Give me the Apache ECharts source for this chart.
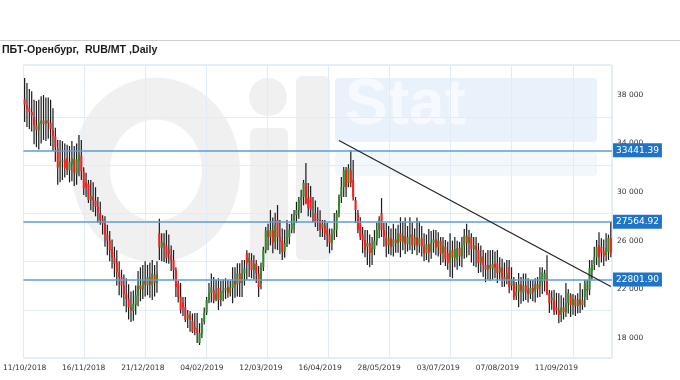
<!DOCTYPE html>
<html><head><meta charset="utf-8">
<script src="https://cdn.jsdelivr.net/npm/echarts@6/dist/echarts.min.js"></script>
<style>html,body{margin:0;padding:0;background:#fff}#c{width:680px;height:380px}</style>
</head><body><div id="c"></div>
<script>
// ---- calendar (trading days) ----
const startDate = '2018-10-11';
const candleCount = 249;
const holidays = ['2018-11-05','2018-12-31','2019-01-01','2019-01-02','2019-01-03','2019-01-04','2019-01-07','2019-01-08',
  '2019-03-08','2019-05-01','2019-05-02','2019-05-03','2019-05-09','2019-05-10','2019-06-12','2019-11-04'];
const extraWorkdays = ['2018-12-29'];
const tickLabels = ['11/10/2018','16/11/2018','21/12/2018','04/02/2019','12/03/2019','16/04/2019','28/05/2019','03/07/2019','07/08/2019','11/09/2019'];

// ---- OHLC values (RUB/MT) ----
const opens = [
37650,37170,36900,36600,36200,35500,35100,35600,35900,35600,
35900,35700,35100,34600,33600,32100,32500,32700,32800,31800,
32300,32700,31500,32600,33000,31700,30800,30700,29400,29600,
29300,28800,28270,27800,27400,26500,26000,25300,24600,24200,
23400,23000,22300,21600,21200,20500,20200,20700,21500,22300,
22000,22700,22300,22900,22300,23200,22500,26600,25400,25800,
25600,25300,24800,24400,23580,22500,21400,20900,20530,19600,
19900,19400,18700,18800,17560,18390,19300,20100,21100,21670,
21930,21200,22100,21100,21700,21900,22170,21700,22100,22700,
22400,23300,22500,23300,24960,24200,24400,23600,24100,23300,
22500,23800,25230,26800,26300,26870,25900,27700,26300,26000,
25100,25800,26300,26900,27280,28100,28520,29350,29600,30750,
29500,29600,28700,28270,27700,27700,27000,27300,26870,26500,
25800,26600,26870,28270,29600,30420,31800,30750,31800,30990,
29350,28270,27450,26500,26050,25500,25800,25000,25300,26000,
26870,28270,26900,26300,25600,26200,25500,26100,25800,26600,
25900,26400,25700,26300,26500,25600,26300,25600,26200,25500,
24960,25700,25100,25800,26100,25500,26000,25000,25500,24960,
24200,25200,24600,24400,25400,24700,25600,26400,25800,26300,
25300,25600,25230,24200,24700,24000,23600,24000,23700,24100,
24140,23400,23800,23000,22800,23820,22300,22500,21400,21800,
22400,21700,22300,21900,21600,22100,21800,22400,22200,22580,
22800,22900,21670,21100,21100,20500,20280,19900,20500,20100,
20850,21500,20700,21200,20600,21200,20700,21350,22000,21930,
23500,24100,24630,25630,25470,25100,24800,25060,26210];
const closes = [
37200,36840,36600,36300,35500,35100,35700,35900,35600,35900,
35700,35200,34600,33700,32000,32500,32600,32000,31800,32500,
32800,31600,32700,33100,31700,30300,30400,29350,29700,29300,
28800,28300,27700,27400,26500,26000,25200,24600,24100,23400,
23000,22300,21600,21200,20500,20300,20800,21500,22300,22000,
22700,22400,23000,22400,23300,22500,23300,25450,25900,25600,
24570,24900,24400,23580,22170,21350,20280,20530,19460,19900,
19460,18500,18900,18390,18390,19200,20100,21100,21670,22170,
21100,21600,21100,21800,21900,22100,21670,22170,22700,22400,
23300,22500,23300,23700,24140,24600,23580,24100,23300,22170,
23800,25230,26870,26300,26870,25800,27300,26300,25900,25060,
25800,26300,26900,27400,28100,28520,29350,29600,30750,29100,
28700,28520,28800,27450,27800,26870,27400,26600,26400,25800,
26600,26870,28270,29600,30420,31800,30400,31960,30750,29600,
28520,26870,26300,26000,25230,25800,24960,25400,26000,26870,
27700,26870,26300,25600,26200,25500,26100,25800,26600,25900,
26400,25700,26300,26500,25600,26300,25600,26200,25500,24960,
25700,25000,25800,26100,25400,26000,24900,25600,24500,24140,
25200,24600,25300,25400,24700,25600,26400,25800,26300,25300,
25600,25230,24140,24700,24000,23600,24000,23700,24100,23800,
23330,23800,23000,22700,23300,22170,22800,21350,21800,22400,
21900,22300,21800,21600,22100,21800,22400,22000,22900,23400,
23300,21670,20850,21300,20120,20280,19870,20500,20100,20850,
21670,20700,21200,20600,21100,20700,21100,22500,21900,23750,
24000,24630,25470,24630,25000,24700,25400,26210,24960];
const lows = [
35770,35360,35200,35000,33950,33700,33500,34000,34300,34200,
34400,33800,33400,32500,30600,30800,31000,31200,31400,30800,
30900,30500,30600,31300,31000,29750,29600,29100,28500,28350,
28000,27500,27300,26500,25500,24800,24300,23700,23000,22300,
21500,21300,20600,20100,19500,19300,19400,19900,20600,21000,
21200,21400,21500,21300,21100,21400,21700,24400,24300,24230,
24140,24100,23500,22750,21350,20900,20000,19800,19300,18800,
18500,18390,18200,17560,17400,17980,19100,19870,20850,20900,
20850,21000,20280,20600,21000,21200,21300,21400,20850,21300,
21400,21350,21350,22300,22750,23000,22900,22800,22500,21350,
22000,23500,24960,25200,25600,24960,25300,25230,24900,24400,
24600,25470,25700,26600,26600,27450,27800,28270,28900,29000,
28000,27930,27500,27120,26800,26300,26300,26050,25500,24960,
25200,26050,26300,27930,29100,29600,29600,30400,30400,29300,
27450,26600,26050,24960,24630,24000,23800,24000,24800,25600,
26200,26300,25500,24630,24900,24800,24700,25000,25000,24630,
25200,24900,25100,25200,24900,25200,24800,25000,24700,24300,
24400,24200,24500,25000,24800,24700,24000,24200,23900,23600,
23000,22900,23800,23600,23900,23800,24500,24600,24800,24200,
23900,23800,23330,23400,23000,22580,22800,22700,22800,22900,
22500,22800,22170,22200,22400,21670,21900,21100,21100,20520,
20800,21000,21100,20900,21200,21000,20900,21300,21350,21600,
21800,21500,20030,20300,19870,19900,19200,19300,19500,19700,
20000,19700,19900,19800,20000,20030,20300,20520,21100,21500,
22800,23580,24000,23800,24200,23900,24300,24400,24630];
const highs = [
39400,38990,38500,38300,37600,37500,37600,37900,38000,37800,
37800,37600,36900,35300,34300,34300,34200,34000,33900,33800,
34200,33800,34000,34700,34300,32050,31600,31000,31000,30800,
30400,29600,29200,28100,28000,27300,26800,26100,25500,25200,
24300,23600,23200,22900,22400,21800,21900,22300,23500,23800,
24000,24300,24000,24200,24400,24000,24300,27800,26600,26600,
26870,26500,25600,25230,23800,22700,22500,21350,21350,20280,
20200,20000,20030,20030,19200,19620,20500,21350,22500,23300,
23000,22750,22900,22700,22800,22900,22750,22700,23800,23800,
24140,24140,24400,24400,25200,25000,24960,24800,24400,23900,
24200,25500,27120,27400,28520,27900,28300,28930,27700,27000,
26900,27700,27400,28200,28520,29200,29600,30200,31000,32400,
30750,30500,29600,29300,28760,28500,27700,27700,27450,27000,
27000,28270,28500,29800,31240,32070,32070,32300,33450,32640,
29600,28520,27930,27120,26870,26870,26500,26300,26870,27500,
28000,29500,27450,27450,27200,27000,27400,27000,27300,27930,
27600,27900,27200,27930,27500,27000,27900,27600,27200,26600,
26500,26960,26800,26900,26870,26700,26300,26300,26050,25900,
26600,26000,26300,26000,25900,26300,26960,27400,26900,26600,
26300,26300,25800,25600,25230,25000,25230,25200,25230,25100,
25230,24630,24500,24200,24400,24400,23800,23000,22600,23330,
23000,23300,23300,22900,22750,22750,22900,23000,23800,23800,
23600,24800,21930,21900,21930,21700,21670,21500,21300,22500,
22000,21670,21600,21500,21670,22500,22000,22750,22750,24400,
24400,25500,26050,26700,26200,26100,26600,26500,27540];

const levels = [33441.39, 27564.92, 22801.90];
const trendStart = [133, 34250];
const trendEnd = [248, 22227];

[opens, closes, lows, highs].forEach(a => { if (a.length !== candleCount) throw new Error('length ' + a.length); });

// build trading-day categories
const categories = [];
(function () {
  const hol = new Set(holidays), extra = new Set(extraWorkdays);
  let t = Date.parse(startDate + 'T00:00:00Z');
  while (categories.length < candleCount) {
    const d = new Date(t);
    const iso = d.toISOString().slice(0, 10);
    const wd = d.getUTCDay();
    if ((wd >= 1 && wd <= 5 && !hol.has(iso)) || extra.has(iso)) {
      categories.push(iso.slice(8, 10) + '/' + iso.slice(5, 7) + '/' + iso.slice(0, 4));
    }
    t += 86400000;
  }
})();

const candleData = opens.map((o, i) => [i, o, closes[i], lows[i], highs[i]]);

const chart = echarts.init(document.getElementById('c'), null, {renderer: 'canvas'});
const lab = {fontFamily: 'DejaVu Sans', fontSize: 7.5, color: '#333'};
const wm = '#f0f0f0';
chart.setOption({
  animation: false,
  backgroundColor: '#fff',
  title: {text: 'ПБТ-Оренбург,  RUB/MT ,Daily', left: 2, top: 45, padding: 0,
    textStyle: {fontFamily: 'Liberation Sans', fontSize: 10.6, fontWeight: 'bold', color: '#1a1a1a'}},
  graphic: [
    {type: 'line', z: -5, shape: {x1: 0, y1: 40.5, x2: 680, y2: 40.5}, style: {stroke: '#cfcfcf', lineWidth: 1}},
    {type: 'ring', z: -10, shape: {cx: 156, cy: 170, r: 84, r0: 46}, scaleY: 1.1, originX: 156, originY: 170, style: {fill: wm}},
    {type: 'circle', z: -10, shape: {cx: 268, cy: 97, r: 19}, style: {fill: wm}},
    {type: 'rect', z: -10, shape: {x: 250, y: 128, width: 38, height: 132, r: 6}, style: {fill: wm}},
    {type: 'rect', z: -10, shape: {x: 296, y: 76, width: 34, height: 184, r: 6}, style: {fill: wm}},
    {type: 'rect', z: -10, shape: {x: 335, y: 78, width: 262, height: 64, r: 4}, style: {fill: '#e9f2fb'}},
    {type: 'text', z: -9, style: {x: 345, y: 74, text: 'Stat', font: 'bold 64px "Liberation Sans"', fill: '#f6f9fd'}},
    {type: 'rect', z: -10, shape: {x: 335, y: 152, width: 262, height: 24, r: 4}, style: {fill: '#f2f7fc'}}
  ],
  grid: {left: 21, right: 68, top: 65, bottom: 22, show: true, borderColor: '#cddff0', borderWidth: 1, backgroundColor: 'transparent'},
  xAxis: [
    {type: 'category', data: categories, boundaryGap: true,
      axisLine: {show: false}, axisTick: {show: false}, splitLine: {show: false},
      axisLabel: Object.assign({interval: 24, margin: 6}, lab)},
    {type: 'value', min: 0, max: 9.643, interval: 1, position: 'bottom',
      axisLine: {show: false}, axisTick: {show: false}, axisLabel: {show: false},
      splitLine: {show: true, lineStyle: {color: '#e1ecf7', width: 1}}}
  ],
  yAxis: [
    {type: 'value', position: 'right', min: 16330, max: 40470, minInterval: 2000, maxInterval: 2000,
      axisLine: {show: false}, axisTick: {show: false}, splitLine: {show: false},
      axisLabel: Object.assign({margin: 5, formatter: v => (Math.round(v) % 4000 === 2000 ? (Math.round(v) / 1000) + ' 000' : '')}, lab)},
    {type: 'value', position: 'right', min: 16330, max: 40470, interval: 3970,
      axisLine: {show: false}, axisTick: {show: false}, axisLabel: {show: false},
      splitLine: {show: true, lineStyle: {color: ['#e1ecf7','#e1ecf7','#e1ecf7','#e1ecf7','#e1ecf7','#e1ecf7','rgba(0,0,0,0)','#e1ecf7']}}}
  ],
  series: [{
    type: 'custom', xAxisIndex: 0, yAxisIndex: 0,
    data: candleData,
    encode: {x: 0, y: [1, 2, 3, 4]},
    renderItem: function (params, api) {
      const i = api.value(0), o = api.value(1), c = api.value(2);
      const l = Math.min(api.value(3), o, c), h = Math.max(api.value(4), o, c);
      const x = api.coord([i, o])[0];
      const yO = api.coord([i, o])[1], yC = api.coord([i, c])[1];
      const yL = api.coord([i, l])[1], yH = api.coord([i, h])[1];
      const top = Math.min(yO, yC), bh = Math.max(1, Math.abs(yO - yC));
      return {type: 'group', children: [
        {type: 'rect', shape: {x: x - 0.6, y: yH, width: 1.2, height: yL - yH}, style: {fill: '#1a1a1a'}},
        {type: 'rect', shape: {x: x - 1, y: top, width: 2, height: bh}, style: {fill: c >= o ? '#2e8c22' : '#ff1a1a'}}
      ]};
    },
    markLine: {
      symbol: ['none', 'none'], silent: true, animation: false,
      data: levels.map(v => ({
        yAxis: v,
        lineStyle: {color: '#5e9cdb', width: 1.5, type: 'solid'},
        label: {show: true, position: 'end', distance: 1, formatter: v.toFixed(2),
          backgroundColor: '#1f74c9', color: '#fff', padding: [3, 3, 2, 3],
          fontFamily: 'DejaVu Sans', fontSize: 9}
      })).concat([[
        {coord: trendStart, lineStyle: {color: '#222', width: 1.2, type: 'solid'}, label: {show: false}},
        {coord: trendEnd}
      ]])
    }
  }]
});
</script></body></html>
